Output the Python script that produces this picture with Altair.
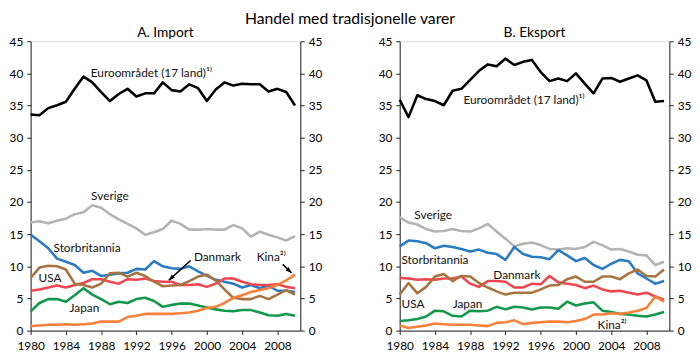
import altair as alt
import pandas as pd

years = list(range(1980, 2011))
series = ["Euroområdet", "Sverige", "Storbritannia", "USA", "Danmark", "Japan", "Kina"]
colors = ["#000000", "#b3b3b3", "#2a7bc3", "#f0464f", "#a9733f", "#12984a", "#f7803a"]

# A. Import
imp_euro = [33.6, 33.5, 34.6, 35.05, 35.6, 37.6, 39.5, 38.6, 37.1, 35.7, 36.8, 37.6, 36.4, 36.9, 36.9, 38.6,
            37.4, 37.2, 38.3, 37.7, 35.7, 37.5, 38.6, 38.1, 38.4, 38.3, 38.3, 37.2, 37.6, 37.1, 35.0]
imp_sverige = [16.8, 17.0, 16.7, 17.1, 17.4, 18.1, 18.4, 19.5, 19.1, 18.1, 17.3, 16.6, 15.9, 14.9, 15.3, 15.8,
               17.1, 16.6, 15.7, 15.7, 15.8, 15.7, 15.7, 16.4, 15.9, 14.6, 15.4, 14.9, 14.5, 14.0, 14.7]
imp_storbritannia = [14.9, 13.9, 12.8, 11.2, 10.7, 10.2, 9.0, 9.3, 8.5, 8.7, 8.9, 9.0, 9.6, 9.5, 10.8, 10.0,
                     9.7, 9.6, 10.0, 9.2, 8.5, 7.9, 7.6, 7.3, 6.7, 7.1, 6.6, 7.0, 6.2, 6.2, 6.0]
imp_usa = [6.2, 6.4, 6.7, 7.0, 6.7, 7.1, 7.4, 8.0, 8.0, 7.6, 7.3, 8.0, 7.9, 8.1, 7.7, 7.6,
           7.6, 7.1, 7.1, 7.2, 6.8, 7.3, 8.1, 8.1, 7.6, 7.2, 7.1, 7.1, 7.2, 6.8, 6.6]
imp_danmark = [8.2, 9.8, 10.1, 10.0, 9.5, 7.3, 7.1, 6.7, 7.3, 8.9, 9.0, 8.4, 9.0, 8.5, 7.6, 6.9,
               7.0, 7.1, 7.7, 8.4, 8.7, 7.8, 6.4, 5.1, 4.9, 4.9, 5.4, 4.9, 5.6, 6.3, 5.6]
imp_japan = [3.0, 4.3, 4.9, 4.9, 4.5, 5.5, 6.6, 5.6, 4.9, 4.1, 4.5, 4.3, 4.9, 5.1, 4.6, 3.7,
             4.0, 4.2, 4.2, 3.9, 3.6, 3.3, 3.1, 3.0, 3.2, 3.2, 2.8, 2.4, 2.3, 2.6, 2.3]
imp_kina = [0.7, 0.8, 0.9, 0.9, 1.0, 0.9, 1.0, 1.1, 1.4, 1.4, 1.4, 2.1, 2.3, 2.6, 2.6, 2.6,
            2.6, 2.7, 2.8, 3.1, 3.5, 3.7, 4.3, 5.1, 5.5, 6.0, 6.3, 6.6, 7.1, 7.8, 8.7]

# B. Eksport
exp_euro = [35.9, 33.2, 36.6, 36.0, 35.7, 35.05, 37.3, 37.6, 39.0, 40.4, 41.4, 41.1, 42.3, 41.3, 41.8, 42.1,
            40.2, 38.8, 39.2, 38.8, 40.0, 38.4, 36.9, 39.2, 39.3, 38.7, 39.2, 39.7, 38.9, 35.6, 35.7]
exp_sverige = [17.6, 16.8, 16.5, 15.8, 15.4, 15.5, 15.8, 15.5, 15.4, 15.9, 16.6, 15.4, 14.3, 13.1, 13.5, 13.7,
               13.3, 12.7, 12.6, 12.8, 12.7, 13.0, 13.8, 13.3, 12.6, 12.7, 12.3, 11.8, 11.7, 10.2, 10.7]
exp_storbritannia = [13.1, 14.0, 13.9, 13.6, 12.8, 13.2, 13.0, 12.7, 12.3, 12.6, 12.1, 11.9, 11.0, 13.0, 11.9, 11.5,
                     11.4, 11.1, 12.5, 11.7, 10.8, 11.3, 10.2, 9.6, 10.4, 11.0, 10.8, 8.9, 8.1, 7.3, 7.7]
exp_usa = [8.2, 8.1, 7.9, 8.0, 7.9, 8.1, 8.1, 8.4, 7.3, 6.8, 7.7, 7.7, 7.6, 6.7, 6.7, 7.3,
           7.2, 8.5, 7.5, 7.3, 7.1, 6.6, 7.0, 6.4, 6.1, 6.2, 5.9, 5.6, 5.9, 5.3, 4.8]
exp_danmark = [5.6, 7.4, 5.8, 6.8, 8.4, 8.8, 7.7, 8.5, 8.4, 7.4, 6.7, 6.1, 5.6, 5.9, 5.9, 5.9,
               6.4, 7.0, 7.1, 8.0, 8.4, 7.6, 7.6, 8.4, 8.4, 8.0, 8.9, 9.5, 8.5, 8.4, 9.5]
exp_japan = [1.5, 1.6, 1.8, 2.2, 3.1, 3.0, 2.3, 2.2, 3.1, 3.0, 3.1, 3.7, 3.3, 3.7, 3.6, 3.3,
             3.6, 3.6, 3.4, 4.5, 3.9, 4.2, 4.4, 3.1, 2.9, 2.6, 2.5, 2.3, 2.2, 2.5, 2.9]
exp_kina = [0.8, 0.4, 0.6, 0.8, 1.1, 1.0, 0.9, 0.9, 0.9, 0.8, 0.7, 1.2, 1.3, 1.6, 1.0, 1.2,
            1.3, 1.4, 1.4, 1.3, 1.5, 1.8, 2.5, 2.5, 2.7, 2.6, 2.8, 3.1, 3.5, 5.3, 4.5]

x_ticks = [1980, 1984, 1988, 1992, 1996, 2000, 2004, 2008]
y_ticks = [0, 5, 10, 15, 20, 25, 30, 35, 40, 45]

# annotation labels (data coordinates)
imp_label_text = ["Euroområdet (17 land)¹⁾", "Sverige", "Storbritannia", "USA", "Danmark", "Kina²⁾", "Japan"]
imp_label_x = [1993.7, 1989.0, 1986.4, 1982.2, 2001.2, 2007.3, 1986.1]
imp_label_y = [40.1, 21.0, 12.9, 8.1, 11.5, 11.5, 3.5]
exp_label_text = ["Euroområdet (17 land)¹⁾", "Sverige", "Storbritannia", "Danmark", "USA", "Japan", "Kina²⁾"]
exp_label_x = [1994.1, 1983.8, 1984.0, 1993.3, 1981.5, 1987.7, 2004.1]
exp_label_y = [35.9, 17.9, 11.0, 8.7, 4.1, 4.1, 0.9]

# arrows in import panel: tail -> head
arrow_x = [1998.15, 2008.6]
arrow_y = [10.9, 10.3]
arrow_x2 = [1995.7, 2009.6]
arrow_y2 = [7.85, 9.0]
arrow_angle = [227, 131]

FONT = "Lato"
xscale = alt.Scale(domain=[1980, 2010.6], nice=False, zero=False)
yscale = alt.Scale(domain=[0, 45], nice=False, zero=True)
axis_common = dict(title=None, grid=False, tickSize=4, labelFontSize=12, labelColor="#000",
                   domainColor="#222", tickColor="#222", labelFont=FONT, labelFlush=False)
xaxis = alt.Axis(values=x_ticks, format="d", labelPadding=6, labelOverlap=False, **axis_common)
yaxis_left = alt.Axis(orient="left", values=y_ticks, labelPadding=4, **axis_common)
yaxis_right = alt.Axis(orient="right", values=y_ticks, labelPadding=4, **axis_common)

ARROW = "M0,0 L-0.75,1.9 L0.75,1.9 Z"


def make_panel(values, title, ltext, lx, ly, arrows):
    rows = []
    for s, vals in zip(series, values):
        for yr, v in zip(years, vals):
            rows.append({"year": yr, "value": v, "series": s})
    df = pd.DataFrame(rows)
    X = alt.X("year:Q", scale=xscale, axis=xaxis)
    Y = alt.Y("value:Q", scale=yscale, axis=yaxis_left)
    lines = alt.Chart(df).mark_line(strokeWidth=2.6, strokeJoin="round").encode(
        x=X, y=Y,
        color=alt.Color("series:N", scale=alt.Scale(domain=series, range=colors), legend=None),
        order=alt.Order("year:Q"),
    )
    lab_df = pd.DataFrame({"year": lx, "value": ly, "text": ltext})
    labels = alt.Chart(lab_df).mark_text(font=FONT, fontSize=12, color="#111", align="center",
                                         baseline="middle").encode(x=X, y=Y, text="text:N")
    inner_layers = [lines, labels]
    if arrows:
        adf = pd.DataFrame({"year": arrow_x, "value": arrow_y, "year2": arrow_x2, "value2": arrow_y2})
        rules = alt.Chart(adf).mark_rule(color="#000", strokeWidth=1.6).encode(
            x=X, y=Y, x2="year2:Q", y2="value2:Q")
        inner_layers.append(rules)
        for i in range(len(arrow_x)):
            hdf = pd.DataFrame({"year": [arrow_x2[i]], "value": [arrow_y2[i]]})
            head = alt.Chart(hdf).mark_point(shape=ARROW, filled=True, color="#000", opacity=1,
                                             size=40, angle=arrow_angle[i]).encode(x=X, y=Y)
            inner_layers.append(head)
    inner = alt.layer(*inner_layers)
    right = alt.Chart(df).mark_line(opacity=0).encode(
        x=X, y=alt.Y("value:Q", scale=yscale, axis=yaxis_right), detail="series:N")
    return alt.layer(inner, right).resolve_scale(y="independent").properties(
        width=274, height=294,
        title=alt.TitleParams(title, fontSize=14, fontWeight="normal", font=FONT, offset=-5, color="#000"),
    )


left = make_panel([imp_euro, imp_sverige, imp_storbritannia, imp_usa, imp_danmark, imp_japan, imp_kina],
                  "A. Import", imp_label_text, imp_label_x, imp_label_y, True)
right = make_panel([exp_euro, exp_sverige, exp_storbritannia, exp_usa, exp_danmark, exp_japan, exp_kina],
                   "B. Eksport", exp_label_text, exp_label_x, exp_label_y, False)

chart = alt.hconcat(left, right, spacing=55).properties(
    title=alt.TitleParams("Handel med tradisjonelle varer", fontSize=16, fontWeight="normal",
                          font=FONT, anchor="middle", offset=-3, dy=-2, color="#000"),
    padding={"left": 0, "top": 0, "right": 0, "bottom": 0},
).configure_view(stroke=None).configure(font=FONT)

chart.save("out.html", embed_options={"renderer": "svg", "actions": False})
